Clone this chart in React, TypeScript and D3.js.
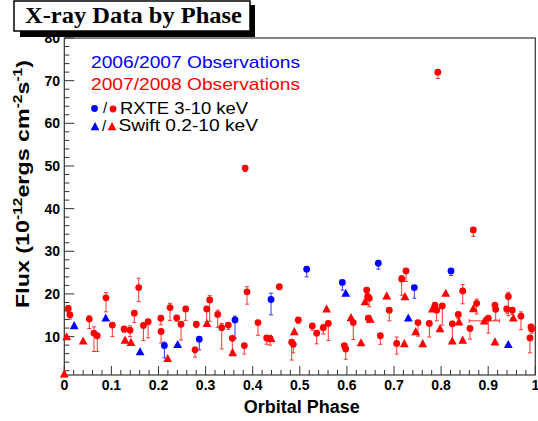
import React from "react";
import * as d3 from "d3";

// [phase, flux, errLow, errHigh]
const rxte0607: number[][] = [
  [0.2125, 7.9, 2.9, 0.8],
  [0.2866, 9.4, 2.5, 0.6],
  [0.3624, 13.9, 4.3, 0.9],
  [0.4389, 18.7, 3.6, 1.5],
  [0.5146, 25.8, 1.8, 0.5],
  [0.5903, 22.7, 1.8, 0.5],
  [0.6667, 27.2, 1.4, 0.4],
  [0.7431, 21.5, 2.5, 0.5],
  [0.821, 25.4, 1.1, 0.4],
];

// [phase, flux]
const swift0607: number[][] = [
  [0.021, 12.6],
  [0.088, 14.4],
  [0.161, 6.5],
  [0.2407, 8.2],
  [0.5975, 20.2],
  [0.7304, 14.4],
  [0.9427, 8.2],
];

// [phase, flux, errLow, errHigh]
const rxte0708: number[][] = [
  [0.0085, 16.6, 1.0, 0.6],
  [0.012, 15.1, 1.0, 0.6],
  [0.053, 14.1, 2.2, 0.8],
  [0.063, 10.8, 4.3, 1.5],
  [0.07, 10.2, 3.7, 0.5],
  [0.0885, 19.1, 3.3, 1.2],
  [0.102, 12.7, 2.7, 0.5],
  [0.127, 11.8, 0.8, 0.5],
  [0.1395, 11.5, 1.5, 1.0],
  [0.1487, 15.5, 2.2, 0.5],
  [0.158, 21.5, 3.3, 2.2],
  [0.168, 12.6, 3.5, 0.6],
  [0.178, 13.5, 3.8, 0.5],
  [0.205, 14.3, 1.5, 0.6],
  [0.2055, 11.2, 2.7, 0.5],
  [0.2245, 16.8, 3.0, 1.0],
  [0.2386, 14.4, 0.8, 0.5],
  [0.2478, 12.9, 3.7, 0.5],
  [0.2577, 16.5, 2.7, 0.5],
  [0.2775, 6.9, 1.7, 0.6],
  [0.2803, 12.9, 0.8, 0.4],
  [0.3023, 16.5, 3.0, 0.5],
  [0.3087, 18.6, 5.0, 1.0],
  [0.3257, 15.2, 3.0, 1.0],
  [0.3342, 12.1, 5.0, 1.0],
  [0.3482, 12.7, 1.0, 0.5],
  [0.3567, 9.6, 3.0, 0.5],
  [0.3822, 7.9, 2.0, 0.4],
  [0.384, 49.5, 0.8, 0.3],
  [0.3879, 20.5, 2.9, 1.2],
  [0.4112, 13.3, 3.0, 0.5],
  [0.4297, 9.7, 1.5, 0.5],
  [0.4368, 9.5, 1.5, 0.5],
  [0.4565, 21.7, 0.7, 0.5],
  [0.4828, 8.7, 4.2, 0.5],
  [0.4862, 8.2, 2.0, 0.3],
  [0.4968, 13.9, 0.8, 0.4],
  [0.5265, 12.5, 1.0, 0.5],
  [0.5359, 10.8, 2.5, 0.5],
  [0.5499, 12.1, 1.5, 0.7],
  [0.5605, 13.1, 4.0, 0.5],
  [0.5945, 7.9, 0.8, 0.4],
  [0.5975, 7.1, 2.4, 0.3],
  [0.6136, 13.3, 4.0, 0.5],
  [0.642, 20.9, 1.0, 0.6],
  [0.6441, 19.4, 1.0, 0.5],
  [0.6455, 14.3, 1.0, 0.5],
  [0.6475, 19.0, 2.0, 0.5],
  [0.671, 10.2, 2.0, 0.4],
  [0.69, 16.2, 2.5, 0.5],
  [0.7057, 8.4, 2.5, 1.5],
  [0.7163, 23.5, 3.8, 0.8],
  [0.7255, 25.4, 2.5, 0.5],
  [0.751, 13.3, 3.2, 0.5],
  [0.775, 13.1, 3.2, 0.5],
  [0.787, 17.4, 1.0, 0.5],
  [0.7906, 16.2, 2.5, 0.5],
  [0.793, 72.0, 1.5, 0.5],
  [0.8025, 17.2, 4.5, 0.5],
  [0.8238, 13.0, 4.3, 0.6],
  [0.8365, 15.2, 1.0, 0.5],
  [0.8459, 20.7, 3.0, 1.5],
  [0.8613, 11.9, 2.5, 0.5],
  [0.8684, 35.0, 1.5, 0.5],
  [0.8755, 17.8, 2.5, 1.0],
  [0.9002, 14.3, 3.5, 0.5],
  [0.9144, 17.4, 1.0, 0.5],
  [0.9159, 16.4, 2.5, 0.5],
  [0.9393, 16.5, 1.0, 0.5],
  [0.9427, 19.4, 4.5, 1.0],
  [0.9512, 16.2, 1.0, 0.5],
  [0.9696, 14.8, 3.2, 1.0],
  [0.9908, 12.3, 1.0, 0.5],
  [0.9922, 11.8, 1.0, 0.5],
  [0.9887, 9.7, 3.5, 0.5],
];

// [phase, flux, phaseErr]
const swift0708: number[][] = [
  [0.0, 1.3, 0],
  [0.005, 10.0, 0],
  [0.04, 9.0, 0],
  [0.129, 9.2, 0],
  [0.1416, 8.7, 0],
  [0.2195, 4.9, 0],
  [0.303, 13.1, 0],
  [0.3575, 6.3, 0],
  [0.4389, 9.6, 0],
  [0.4884, 11.2, 0],
  [0.557, 16.5, 0],
  [0.6087, 14.5, 0],
  [0.63, 8.6, 0],
  [0.6384, 18.2, 0],
  [0.6497, 14.1, 0],
  [0.6845, 19.6, 0],
  [0.7219, 8.4, 0],
  [0.7233, 19.4, 0],
  [0.746, 11.2, 0],
  [0.761, 8.4, 0],
  [0.7813, 16.5, 0],
  [0.7977, 11.9, 0],
  [0.8098, 20.2, 0],
  [0.8238, 9.0, 0],
  [0.838, 13.5, 0],
  [0.8459, 9.2, 0],
  [0.8684, 16.6, 0],
  [0.8917, 13.7, 0.032],
  [0.9144, 8.8, 0],
  [0.9533, 14.4, 0],
];

const xTickLabels = ["0", "0.1", "0.2", "0.3", "0.4", "0.5", "0.6", "0.7", "0.8", "0.9", "1"];
const yTickLabels = ["10", "20", "30", "40", "50", "60", "70", "80"];

const BLUE = "#0000ff";
const RED = "#ff0000";
const SANS = "'Liberation Sans', Arial, Helvetica, sans-serif";

const W = 538;
const H = 421;

const x = d3.scaleLinear().domain([0, 1]).range([64.3, 535.3]);
const y = d3.scaleLinear().domain([1, 80]).range([375, 38]);

const triPath = (cx: number, cy: number, s = 4.4) =>
  `M${cx},${cy - s} L${cx + s},${cy + s * 0.85} L${cx - s},${cy + s * 0.85} Z`;

function ErrorBar({ d, color }: { d: number[]; color: string }) {
  const cx = x(d[0]);
  const y0 = y(d[1] - d[2]);
  const y1 = y(d[1] + d[3]);
  return (
    <g stroke={color} strokeWidth={1} opacity={0.8}>
      <line x1={cx} x2={cx} y1={y0} y2={y1} />
      <line x1={cx - 2} x2={cx + 2} y1={y0} y2={y0} />
      <line x1={cx - 2} x2={cx + 2} y1={y1} y2={y1} />
    </g>
  );
}

export default function App() {
  const xMinor = d3.range(0, 1.0001, 0.02);
  const yMinor = d3.range(2, 80.001, 2);
  return (
    <svg
      width={W}
      height={H}
      style={{ position: "absolute", left: 0, top: 0, background: "#fff" }}
      fontFamily={SANS}
    >
      <rect x={0} y={0} width={W} height={H} fill="#fff" />
      {/* frame */}
      <rect
        x={x(0)}
        y={y(80)}
        width={x(1) - x(0)}
        height={y(1) - y(80)}
        fill="none"
        stroke="#333"
        strokeWidth={1.2}
      />
      {/* x ticks */}
      {xMinor.map((v, i) => {
        const major = i % 5 === 0;
        return (
          <line
            key={"xm" + i}
            x1={x(v)}
            x2={x(v)}
            y1={y(1)}
            y2={y(1) - (major ? 9 : 5)}
            stroke="#333"
            strokeWidth={1}
          />
        );
      })}
      {xTickLabels.map((t, i) => (
        <text
          key={"xl" + i}
          x={x(i / 10)}
          y={390}
          textAnchor="middle"
          fontSize={14}
          fontWeight="bold"
          fill="#000"
        >
          {t}
        </text>
      ))}
      {/* y ticks */}
      {yMinor.map((v, i) => {
        const major = v % 10 === 0;
        return (
          <line
            key={"ym" + i}
            x1={x(0)}
            x2={x(0) + (major ? 10 : 5)}
            y1={y(v)}
            y2={y(v)}
            stroke="#333"
            strokeWidth={1}
          />
        );
      })}
      {yTickLabels.map((t) => (
        <text
          key={"yl" + t}
          x={60}
          y={y(+t) + 5}
          textAnchor="end"
          fontSize={14}
          fontWeight="bold"
          fill="#000"
        >
          {t}
        </text>
      ))}
      {/* axis titles */}
      <text x={301.7} y={413} textAnchor="middle" fontSize={18} fontWeight="bold">
        Orbital Phase
      </text>
      <text
        transform="translate(29,184) rotate(-90)"
        textAnchor="middle"
        fontSize={18}
        fontWeight="bold"
        textLength={248}
        lengthAdjust="spacingAndGlyphs"
      >
        Flux (10
        <tspan fontSize={12} dy={-7}>-12</tspan>
        <tspan dy={7}>ergs cm</tspan>
        <tspan fontSize={12} dy={-7}>-2</tspan>
        <tspan dy={7}>s</tspan>
        <tspan fontSize={12} dy={-7}>-1</tspan>
        <tspan dy={7}>)</tspan>
      </text>

      {/* error bars */}
      {rxte0708.map((d, i) => (
        <ErrorBar key={"er" + i} d={d} color={RED} />
      ))}
      {rxte0607.map((d, i) => (
        <ErrorBar key={"eb" + i} d={d} color={BLUE} />
      ))}
      {swift0708
        .filter((d) => d[2] > 0)
        .map((d, i) => (
          <g key={"hx" + i} stroke={RED} strokeWidth={1} opacity={0.8}>
            <line x1={x(d[0] - d[2])} x2={x(d[0] + d[2])} y1={y(d[1])} y2={y(d[1])} />
            <line x1={x(d[0] - d[2])} x2={x(d[0] - d[2])} y1={y(d[1]) - 2} y2={y(d[1]) + 2} />
            <line x1={x(d[0] + d[2])} x2={x(d[0] + d[2])} y1={y(d[1]) - 2} y2={y(d[1]) + 2} />
          </g>
        ))}

      {/* markers */}
      {swift0708.map((d, i) => (
        <path key={"tr" + i} d={triPath(x(d[0]), y(d[1]))} fill={RED} />
      ))}
      {swift0607.map((d, i) => (
        <path key={"tb" + i} d={triPath(x(d[0]), y(d[1]))} fill={BLUE} />
      ))}
      {rxte0708.map((d, i) => (
        <circle key={"cr" + i} cx={x(d[0])} cy={y(d[1])} r={3.4} fill={RED} />
      ))}
      {rxte0607.map((d, i) => (
        <circle key={"cb" + i} cx={x(d[0])} cy={y(d[1])} r={3.4} fill={BLUE} />
      ))}

      {/* legend */}
      <text x={91} y={68} fontSize={17} fill={BLUE} textLength={209} lengthAdjust="spacingAndGlyphs">
        2006/2007 Observations
      </text>
      <text x={91} y={90} fontSize={17} fill={RED} textLength={209} lengthAdjust="spacingAndGlyphs">
        2007/2008 Observations
      </text>
      <circle cx={94.5} cy={108.5} r={3.4} fill={BLUE} />
      <text x={105} y={113} fontSize={15} textAnchor="middle">/</text>
      <circle cx={113} cy={109} r={3.4} fill={RED} />
      <text x={120} y={113.5} fontSize={17} textLength={128} lengthAdjust="spacingAndGlyphs">
        RXTE 3-10 keV
      </text>
      <path d={triPath(95, 126.5)} fill={BLUE} />
      <text x={104} y={131} fontSize={15} textAnchor="middle">/</text>
      <path d={triPath(112, 126.5)} fill={RED} />
      <text x={118.5} y={131} fontSize={17} textLength={139.5} lengthAdjust="spacingAndGlyphs">
        Swift 0.2-10 keV
      </text>

      {/* title box */}
      <rect x={20} y={31} width={235} height={6} fill="#000" />
      <rect x={250} y={5} width={5} height={32} fill="#000" />
      <rect x={14} y={1} width={236} height={30} fill="#fff" stroke="#000" strokeWidth={1.5} />
      <text
        x={25}
        y={22.7}
        fontFamily="'Liberation Serif', 'Times New Roman', serif"
        fontWeight="bold"
        fontSize={23}
        textLength={217}
        lengthAdjust="spacingAndGlyphs"
      >
        X-ray Data by Phase
      </text>
    </svg>
  );
}
